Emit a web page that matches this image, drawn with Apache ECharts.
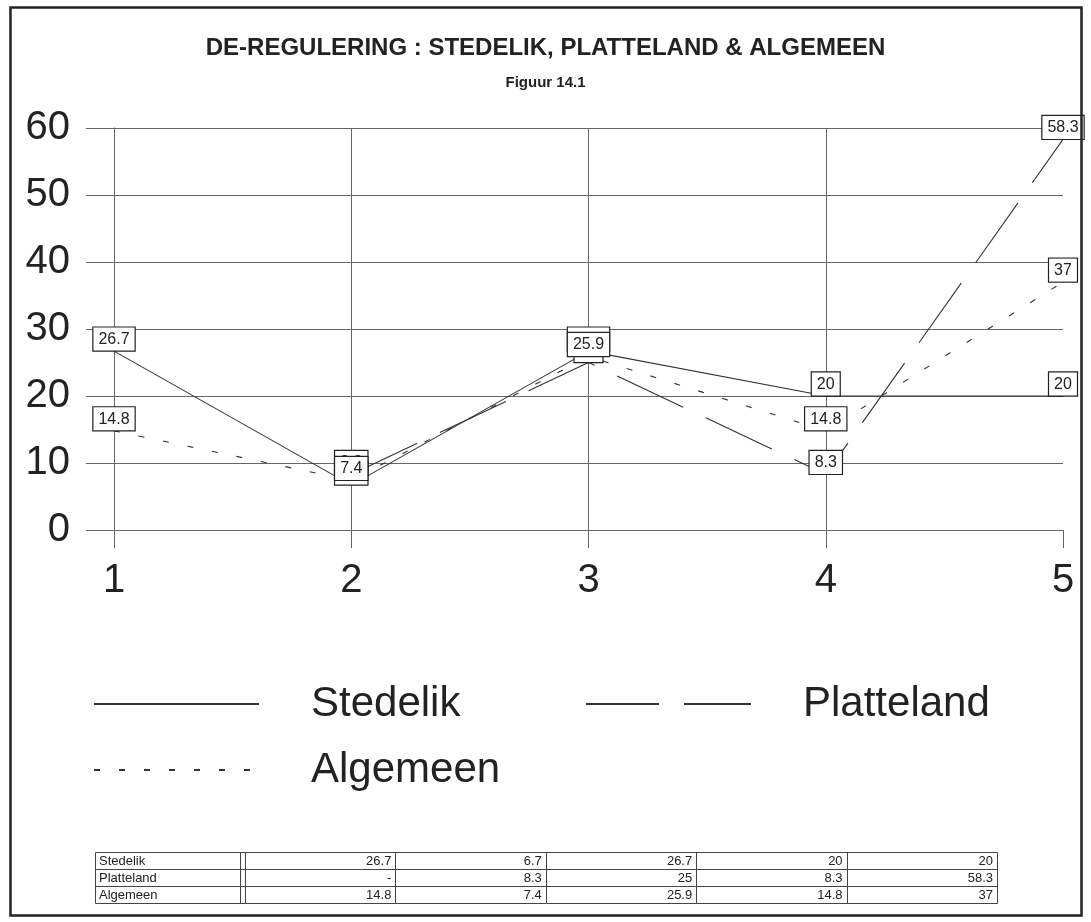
<!DOCTYPE html>
<html>
<head>
<meta charset="utf-8">
<script src="https://cdn.jsdelivr.net/npm/echarts@6/dist/echarts.min.js"></script>
<style>
  html, body { margin: 0; padding: 0; background: #fff; }
  #chart { width: 1091px; height: 922px; }
</style>
</head>
<body>
<div id="chart"></div>
<script>
// ---- data ----
const categories = ['1', '2', '3', '4', '5'];
const seriesNames = ['Stedelik', 'Platteland', 'Algemeen'];
const stedelik = [26.7, 6.7, 26.7, 20, 20];
const platteland = [null, 8.3, 25, 8.3, 58.3];
const algemeen = [14.8, 7.4, 25.9, 14.8, 37];
const yTicks = [0, 10, 20, 30, 40, 50, 60];
const titleText = 'DE-REGULERING : STEDELIK, PLATTELAND & ALGEMEEN';
const subtitleText = 'Figuur 14.1';

// ---- styles ----
const FONT = 'Liberation Sans, Arial, sans-serif';
const INK = '#222';
const LINE = '#333';
const GRID = '#666';
const dashes = { Stedelik: 'solid', Platteland: [73, 25], Algemeen: [6, 19] };
const values = { Stedelik: stedelik, Platteland: platteland, Algemeen: algemeen };

const chart = echarts.init(document.getElementById('chart'), null, { renderer: 'canvas' });

// ---- data table (graphic) ----
function buildTable() {
  const left = 95, labelW = 145, dbl = 5, right = 997, top = 852, rowH = 17;
  const colW = (right - (left + labelW + dbl)) / categories.length;
  const els = [];
  const bottom = top + rowH * seriesNames.length;
  const stroke = { stroke: '#444', lineWidth: 1, fill: null };
  els.push({ type: 'rect', shape: { x: left + 0.5, y: top + 0.5, width: right - left, height: rowH * seriesNames.length }, style: stroke });
  seriesNames.forEach((n, i) => {
    if (i > 0) els.push({ type: 'line', shape: { x1: left, y1: top + i * rowH + 0.5, x2: right, y2: top + i * rowH + 0.5 }, style: stroke });
    els.push({ type: 'text', x: left + 4, y: top + i * rowH + rowH / 2 + 1, style: { text: n, font: '13px ' + FONT, fill: INK, textVerticalAlign: 'middle' } });
    values[n].forEach((v, j) => {
      const xr = left + labelW + dbl + colW * (j + 1) - 4;
      els.push({ type: 'text', x: xr, y: top + i * rowH + rowH / 2 + 1, style: { text: v == null ? '-' : String(v), font: '13px ' + FONT, fill: INK, textAlign: 'right', textVerticalAlign: 'middle' } });
    });
  });
  els.push({ type: 'line', shape: { x1: left + labelW + 0.5, y1: top, x2: left + labelW + 0.5, y2: bottom }, style: stroke });
  for (let j = 0; j < categories.length; j++) {
    const x = Math.round(left + labelW + dbl + colW * j) + 0.5;
    els.push({ type: 'line', shape: { x1: x, y1: top, x2: x, y2: bottom }, style: stroke });
  }
  return els;
}

const legendCommon = {
  padding: 0,
  itemWidth: 165,
  itemHeight: 42,
  itemStyle: { opacity: 0 },
  textStyle: { fontSize: 42, fontFamily: FONT, color: INK, padding: [0, 0, 0, 47] },
  selectedMode: false
};

const option = {
  animation: false,
  backgroundColor: '#fff',
  title: [
    { text: titleText, left: 'center', top: 31, textStyle: { fontFamily: FONT, fontWeight: 'bold', fontSize: 24, color: INK } },
    { text: subtitleText, left: 'center', top: 70, textStyle: { fontFamily: FONT, fontWeight: 'bold', fontSize: 15, color: INK } }
  ],
  legend: [
    Object.assign({}, legendCommon, { data: ['Stedelik'], left: 93, top: 683 }),
    Object.assign({}, legendCommon, { data: ['Platteland'], left: 585, top: 683 }),
    Object.assign({}, legendCommon, { data: ['Algemeen'], left: 93, top: 749 })
  ],
  grid: { left: 114, right: 28, top: 128, bottom: 392, containLabel: false },
  xAxis: {
    type: 'category',
    data: categories,
    boundaryGap: false,
    axisLine: { show: true, lineStyle: { color: GRID, width: 1 } },
    axisTick: { show: true, length: 18, lineStyle: { color: GRID } },
    splitLine: { show: true, interval: (idx) => idx < categories.length - 1, lineStyle: { color: GRID, width: 1 } },
    axisLabel: { fontSize: 40, fontFamily: FONT, color: INK, margin: 31 }
  },
  yAxis: {
    type: 'value',
    min: yTicks[0],
    max: yTicks[yTicks.length - 1],
    interval: yTicks[1] - yTicks[0],
    axisLine: { show: true, lineStyle: { color: GRID, width: 1 } },
    axisTick: { show: true, length: 28, lineStyle: { color: GRID } },
    splitLine: { show: true, lineStyle: { color: GRID, width: 1 } },
    axisLabel: { fontSize: 40, fontFamily: FONT, color: INK, margin: 44 }
  },
  series: seriesNames.map((n) => ({
    name: n,
    type: 'line',
    data: values[n],
    connectNulls: false,
    symbol: 'circle',
    symbolSize: 1,
    showSymbol: true,
    itemStyle: { color: LINE },
    lineStyle: { color: LINE, width: 1.1, type: dashes[n] },
    label: {
      show: true,
      position: 'top',
      distance: 0,
      fontSize: 16,
      fontFamily: FONT,
      color: INK,
      backgroundColor: '#fff',
      borderColor: INK,
      borderWidth: 1.2,
      padding: [4, 5, 3, 5]
    },
    emphasis: { disabled: true }
  })),
  graphic: [
    { type: 'rect', shape: { x: 10.5, y: 7.5, width: 1071, height: 908 }, style: { stroke: '#222', lineWidth: 2.5, fill: null }, z: 100 },
    ...buildTable()
  ]
};

chart.setOption(option);
</script>
</body>
</html>
